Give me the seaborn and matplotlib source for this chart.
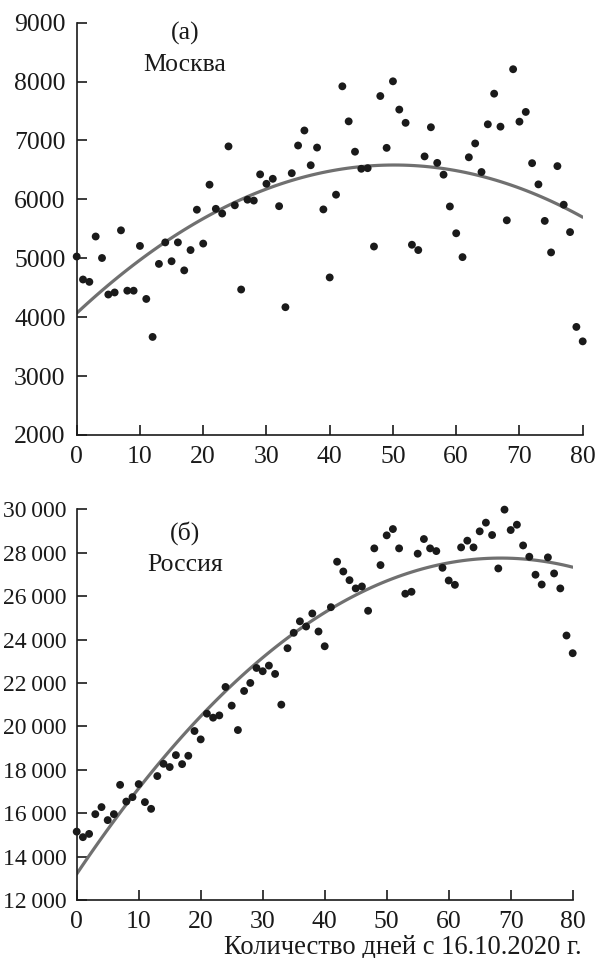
import numpy as np
import pandas as pd
import seaborn as sns
import matplotlib
matplotlib.use("Agg")
import matplotlib.pyplot as plt
from matplotlib.ticker import FuncFormatter

days = list(range(0, 81))

moscow = [5030, 4640, 4600, 5370, 5005, 4385, 4420, 5475, 4450, 4450,
          5210, 4310, 3665, 4905, 5270, 4950, 5270, 4795, 5140, 5825,
          5250, 6250, 5840, 5760, 6900, 5900, 4470, 5995, 5980, 6425,
          6265, 6350, 5885, 4170, 6445, 6915, 7170, 6580, 6880, 5830,
          4675, 6080, 7920, 7325, 6810, 6520, 6530, 5200, 7755, 6875,
          8005, 7525, 7300, 5230, 5140, 6730, 7225, 6620, 6420, 5880,
          5425, 5020, 6715, 6950, 6465, 7275, 7795, 7235, 5645, 8210,
          7320, 7485, 6615, 6255, 5635, 5100, 6565, 5910, 5445, 3835,
          3590]

russia = [15150, 14895, 15045, 15955, 16280, 15680, 15955, 17305, 16535, 16740,
          17340, 16510, 16200, 17710, 18275, 18125, 18675, 18260, 18645, 19785,
          19400, 20585, 20400, 20505, 21815, 20955, 19830, 21630, 22000, 22690,
          22540, 22800, 22415, 21000, 23600, 24310, 24840, 24600, 25200, 24370,
          23690, 25490, 27585, 27135, 26735, 26355, 26445, 25325, 28200, 27430,
          28800, 29090, 28200, 26110, 26200, 27955, 28630, 28200, 28075, 27305,
          26720, 26520, 28245, 28555, 28245, 28985, 29385, 28815, 27275, 29985,
          29045, 29290, 28335, 27815, 26985, 26535, 27785, 27045, 26355, 24185,
          23370]

moscow_yticks = [2000, 3000, 4000, 5000, 6000, 7000, 8000, 9000]
russia_yticks = [12000, 14000, 16000, 18000, 20000, 22000, 24000, 26000, 28000, 30000]
xticks = [0, 10, 20, 30, 40, 50, 60, 70, 80]

sns.set_style("ticks")
plt.rcParams['font.family'] = ['Liberation Serif', 'DejaVu Serif']
plt.rcParams['mathtext.fontset'] = 'dejavuserif'

W, H = 597, 958
fig = plt.figure(figsize=(W / 100, H / 100), dpi=100)

def add_axes(left, right, top, bottom):
    return fig.add_axes([left / W, 1 - bottom / H, (right - left) / W, (bottom - top) / H])

ax1 = add_axes(76.7, 582.7, 22.7, 435)
ax2 = add_axes(76.7, 572.7, 509.3, 900)

df_m = pd.DataFrame({"day": days, "value": moscow})
df_r = pd.DataFrame({"day": days, "value": russia})

dot_color = "#1a1a1a"
line_color = "#707070"
fs = 18.5

for ax, df, yticks, ylim, lab1, lab2, tx, ty1, ty2, fmt, yfs, ypad in [
    (ax1, df_m, moscow_yticks, (2000, 9000), "(а)", "Москва", 0.214, 0.975, 0.897,
     lambda v, p: f"{int(v)}", fs, 8),
    (ax2, df_r, russia_yticks, (12000, 30000), "(б)", "Россия", 0.218, 0.939, 0.857,
     lambda v, p: f"{int(v) // 1000}\u2009{int(v) % 1000:03d}", 17, 7.5),
]:
    sns.regplot(data=df, x="day", y="value", order=2, ci=None, scatter=False,
                ax=ax, line_kws=dict(color=line_color, lw=2.3))
    sns.scatterplot(data=df, x="day", y="value", ax=ax, color=dot_color,
                    s=32, edgecolor="none", clip_on=False, zorder=5)
    ax.set_xlim(0, 80)
    ax.set_ylim(*ylim)
    ax.set_xticks(xticks)
    ax.set_yticks(yticks)
    ax.yaxis.set_major_formatter(FuncFormatter(fmt))
    ax.set_xlabel("")
    ax.set_ylabel("")
    sns.despine(ax=ax)
    for s in ("left", "bottom"):
        ax.spines[s].set_linewidth(1.2)
        ax.spines[s].set_color("#1a1a1a")
    ax.tick_params(direction="in", length=7, width=1.2, colors="#1a1a1a")
    ax.tick_params(axis="x", labelsize=fs, pad=8)
    ax.tick_params(axis="y", labelsize=yfs, pad=ypad)
    ax.text(tx, ty1, lab1, transform=ax.transAxes, ha="center", va="center",
            fontsize=fs, color="#1a1a1a")
    ax.text(tx, ty2, lab2, transform=ax.transAxes, ha="center", va="center",
            fontsize=fs, color="#1a1a1a")

fig.text(582 / W, 1 - 947 / H, "Количество дней с 16.10.2020 г.",
         ha="right", va="center", fontsize=19.2, color="#1a1a1a")

fig.savefig("out.png", dpi=100)
